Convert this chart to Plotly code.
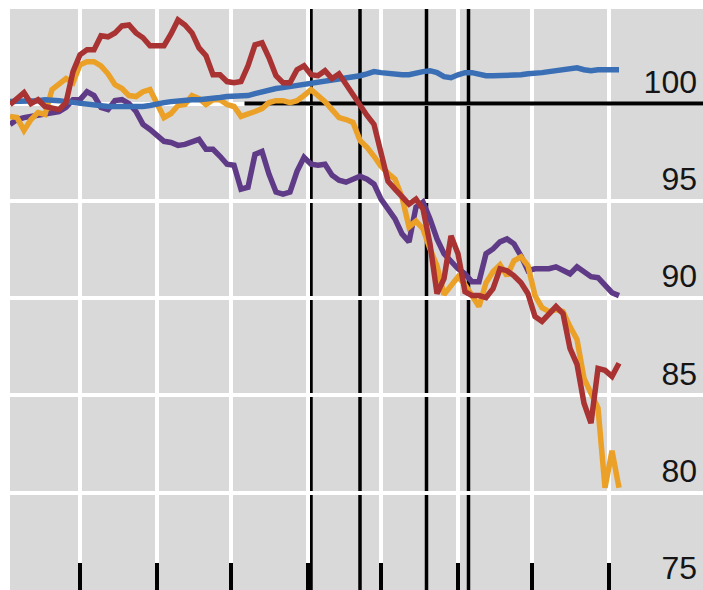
import plotly.graph_objects as go

# trading-day index of each sample (every second session)
days = list(range(0, 176, 2))

red = [99.95, 100.26, 100.56, 100.0, 100.2, 99.85, 99.8, 99.69, 100.05, 101.64,
       102.51, 102.76, 102.76, 103.48, 103.43, 103.63, 103.99, 104.04, 103.63, 103.38,
       102.97, 102.97, 102.97, 103.58, 104.3, 104.04, 103.63, 102.86, 102.46, 101.48,
       101.48, 101.13, 101.07, 101.13, 101.94, 103.02, 103.12, 102.35, 101.43, 101.07,
       101.07, 101.74, 101.94, 101.48, 101.43, 101.69, 101.28, 101.53, 100.97, 100.46,
       99.85, 99.39, 98.93, 97.39, 96.01, 95.6, 95.19, 94.83, 95.09, 94.58,
       92.79, 90.23, 91.0, 93.2, 92.28, 90.33, 90.13, 90.13, 90.03, 90.49,
       91.51, 91.41, 91.15, 90.79, 90.23, 89.05, 88.8, 89.16, 89.57, 89.21,
       87.42, 86.6, 84.6, 83.58, 86.39, 86.29, 85.98, 86.65]

orange = [99.34, 99.28, 98.62, 99.18, 99.54, 99.44, 100.72, 101.02, 101.28, 101.07,
          101.99, 102.15, 102.15, 101.94, 101.53, 100.97, 100.77, 100.41, 100.36, 100.61,
          100.72, 100.0, 99.28, 99.49, 99.9, 99.95, 100.41, 100.26, 99.95, 100.2,
          100.2, 99.95, 99.85, 99.34, 99.44, 99.59, 99.74, 100.05, 100.15, 100.15,
          100.05, 100.15, 100.41, 100.72, 100.41, 100.1, 99.69, 99.28, 99.18, 99.03,
          98.11, 97.75, 97.29, 96.78, 96.42, 96.11, 95.19, 93.66, 93.96, 93.56,
          92.53, 91.66, 90.18, 90.64, 91.1, 90.69, 90.08, 89.57, 90.79, 91.36,
          91.71, 91.15, 91.92, 92.12, 91.66, 90.13, 89.51, 89.31, 89.41, 89.31,
          88.54, 87.88, 85.88, 85.06, 84.35, 80.26, 82.15, 80.26]

blue = [100.1, 100.1, 100.15, 100.15, 100.15, 100.2, 100.2, 100.15, 100.1, 100.05,
        100.05, 100.0, 99.95, 99.9, 99.85, 99.85, 99.85, 99.8, 99.8, 99.85,
        99.9, 100.0, 100.05, 100.1, 100.15, 100.15, 100.2, 100.2, 100.26, 100.26,
        100.31, 100.36, 100.36, 100.36, 100.41, 100.51, 100.61, 100.72, 100.77, 100.82,
        100.87, 100.92, 100.97, 101.02, 101.07, 101.18, 101.23, 101.28, 101.33, 101.38,
        101.43, 101.53, 101.64, 101.59, 101.53, 101.48, 101.48, 101.48, 101.59, 101.64,
        101.69, 101.59, 101.38, 101.33, 101.48, 101.59, 101.59, 101.48, 101.43, 101.43,
        101.43, 101.48, 101.48, 101.48, 101.53, 101.53, 101.59, 101.64, 101.69, 101.74,
        101.84, 101.84, 101.74, 101.69, 101.74, 101.74, 101.74, 101.74]

purple = [98.93, 99.18, 99.28, 99.34, 99.39, 99.44, 99.49, 99.59, 99.8, 100.2,
          100.2, 100.61, 100.41, 99.8, 99.69, 100.15, 100.2, 100.0, 99.59, 98.93,
          98.67, 98.36, 98.06, 98.0, 97.85, 97.9, 98.06, 98.16, 97.65, 97.65,
          97.29, 96.88, 96.83, 95.6, 95.7, 97.39, 97.54, 96.37, 95.45, 95.35,
          95.45, 96.52, 97.24, 96.88, 96.83, 96.88, 96.32, 96.06, 95.96, 96.11,
          96.27, 96.11, 95.86, 95.09, 94.58, 94.07, 93.3, 92.89, 94.68, 94.94,
          94.07, 93.04, 92.28, 91.87, 91.51, 91.25, 90.84, 90.84, 92.28, 92.53,
          92.89, 93.04, 92.79, 92.17, 91.41, 91.51, 91.51, 91.51, 91.61, 91.41,
          91.25, 91.61, 91.36, 91.1, 91.05, 90.64, 90.28, 90.13]

month_starts = [20, 42, 63, 85, 106, 128, 149, 171]
event_days = [86, 100, 119, 131]
y_ticks = [75, 80, 85, 90, 95, 100]

fig = go.Figure()

series = [
    ('purple', purple, '#5F3A87'),
    ('orange', orange, '#EBA128'),
    ('blue', blue, '#3A6EB5'),
    ('red', red, '#A93232'),
]
for name, vals, col in series:
    fig.add_trace(go.Scatter(x=days, y=vals, mode='lines', name=name,
                             line=dict(color=col, width=5.5)))

# event markers, drawn under the lines
for d in event_days:
    fig.add_shape(type='line', xref='x', yref='paper', x0=d, x1=d, y0=0, y1=1,
                  line=dict(color='black', width=3.5), layer='between')

# baseline at 100
fig.add_shape(type='line', xref='x', yref='y', x0=67, x1=198, y0=100, y1=100,
              line=dict(color='black', width=4), layer='between')

fig.update_layout(
    width=703, height=590,
    margin=dict(l=10, r=0, t=9, b=0),
    paper_bgcolor='white',
    plot_bgcolor='#D9D9D9',
    showlegend=False,
    xaxis=dict(
        range=[0, 198],
        tickvals=month_starts,
        showticklabels=False,
        showgrid=True, gridcolor='white', gridwidth=4,
        ticks='inside', ticklen=27, tickwidth=4, tickcolor='black',
        zeroline=False, showline=False,
    ),
    yaxis=dict(
        range=[75, 104.86],
        side='right',
        tickvals=y_ticks,
        ticklabelposition='inside',
        ticklabelshift=-22,
        ticklabelstandoff=3,
        tickfont=dict(family='Liberation Sans, Arial', size=32, color='#151515'),
        showgrid=True, gridcolor='white', gridwidth=4,
        ticks='', zeroline=False, showline=False,
    ),
)

# drop the page's default body margin so the figure fills the window exactly
fig.write_html('out.html',
               config={'displayModeBar': False},
               post_script="document.body.style.margin='0';"
                           "document.body.style.overflow='hidden';")
